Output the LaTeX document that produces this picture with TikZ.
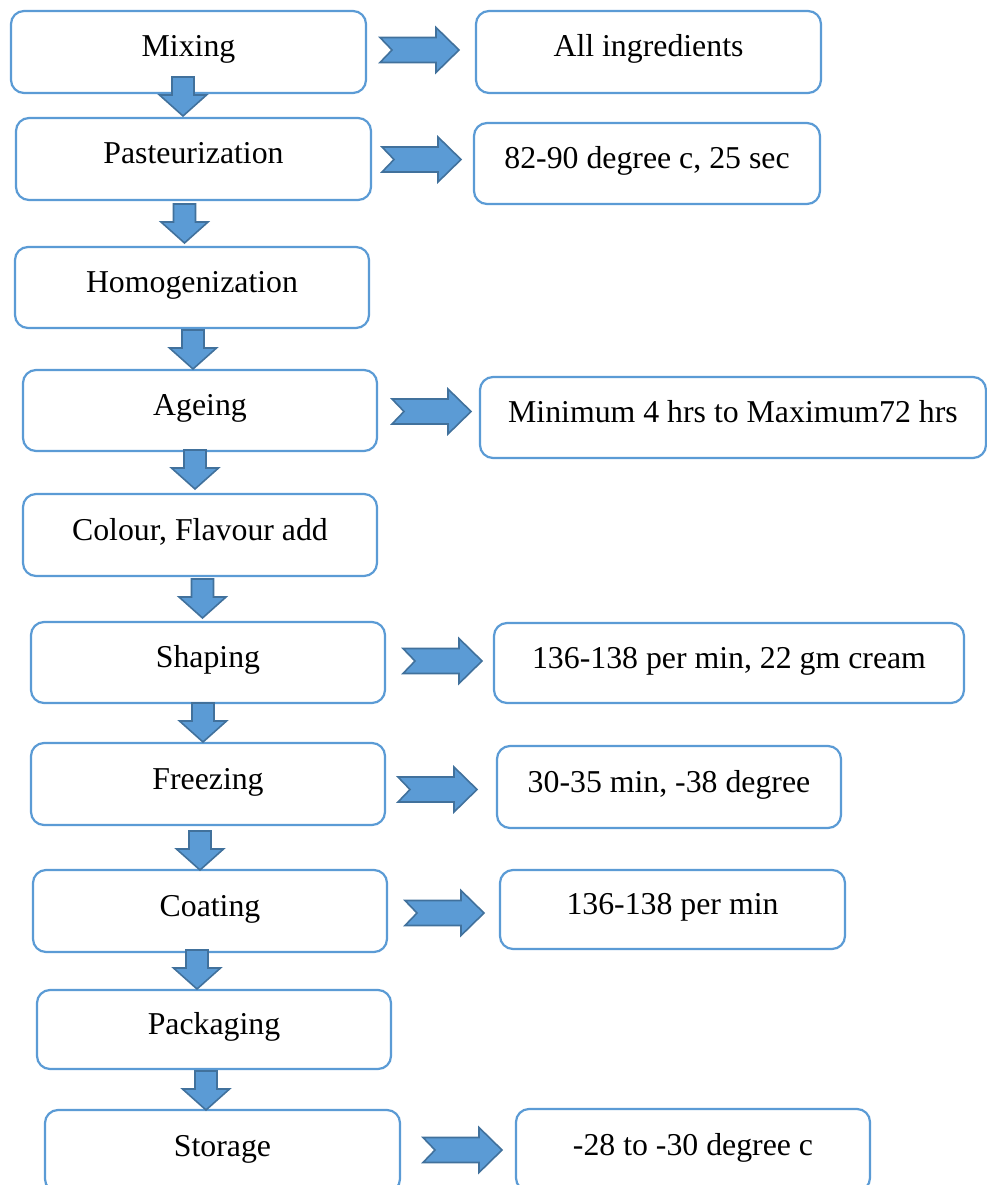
\documentclass[tikz,border=0pt]{standalone}
\usepackage{fontspec}
\setmainfont{Liberation Serif}
\definecolor{boxblue}{HTML}{5B9BD5}
\definecolor{arrfill}{HTML}{5B9BD5}
\definecolor{arrline}{HTML}{41719C}
\tikzset{
  box/.style={draw=boxblue, line width=2.2pt, rounded corners=13pt, fill=white,
    inner sep=0pt, text height=22pt, text depth=12pt,
    font=\fontsize{31.8}{38}\selectfont},
  arrowshape/.style={fill=arrfill, draw=arrline, line width=1.6pt, line join=miter},
  rarr/.pic={\draw[arrowshape] (0,-12.5) -- (56,-12.5) -- (56,-22.5) -- (79,0) -- (56,22.5) -- (56,12.5) -- (0,12.5) -- (12,0) -- cycle;},
  darr/.pic={\draw[arrowshape] (-11,0) -- (11,0) -- (11,18) -- (23.5,18) -- (0,39) -- (-23.5,18) -- (-11,18) -- cycle;}
}
\newcommand\bx[6]{\node[box, minimum width={(#4-#2)*1pt}, minimum height={(#5-#3)*1pt}] (#1) at ({(#2+#4)/2},{(#3+#5)/2}) {#6};}
\begin{document}
\begin{tikzpicture}[x=1pt,y=-1pt]
\useasboundingbox (0,0) rectangle (987,1185);
% left column
\bx{mix}{11}{11}{366}{93}{Mixing}
\bx{past}{16}{118}{371}{200}{Pasteurization}
\bx{homo}{15}{247}{369}{328}{Homogenization}
\bx{age}{23}{370}{377}{451}{Ageing}
\bx{col}{23}{494}{377}{576}{Colour, Flavour add}
\bx{shape}{31}{622}{385}{703}{Shaping}
\bx{freeze}{31}{743}{385}{825}{Freezing}
\bx{coat}{33}{870}{387}{952}{Coating}
\bx{pack}{37}{990}{391}{1069}{Packaging}
\bx{store}{45}{1110}{400}{1192}{Storage}
% right column
\bx{ingr}{476}{11}{821}{93}{All ingredients}
\bx{pastv}{474}{123}{820}{204}{82-90 degree c, 25 sec}
\bx{agev}{480}{377}{986}{458}{Minimum 4 hrs to Maximum72 hrs}
\bx{shapev}{494}{623}{964}{703}{136-138 per min, 22 gm cream}
\bx{freezev}{497}{746}{841}{828}{30-35 min, -38 degree}
\bx{coatv}{500}{870}{845}{949}{136-138 per min}
\bx{storev}{516}{1109}{870}{1191}{-28 to -30 degree c}
% right block arrows
\pic at (380,50) {rarr};
\pic at (382,159.5) {rarr};
\pic at (392,411.5) {rarr};
\pic at (403,661) {rarr};
\pic at (398,789.5) {rarr};
\pic at (405,913) {rarr};
\pic at (423,1150) {rarr};
% down block arrows
\pic at (183,77) {darr};
\pic at (184.5,204) {darr};
\pic at (193,330) {darr};
\pic at (195,450) {darr};
\pic at (202.5,579) {darr};
\pic at (203,703) {darr};
\pic at (200,831) {darr};
\pic at (197,950) {darr};
\pic at (206,1071) {darr};
\end{tikzpicture}
\end{document}
